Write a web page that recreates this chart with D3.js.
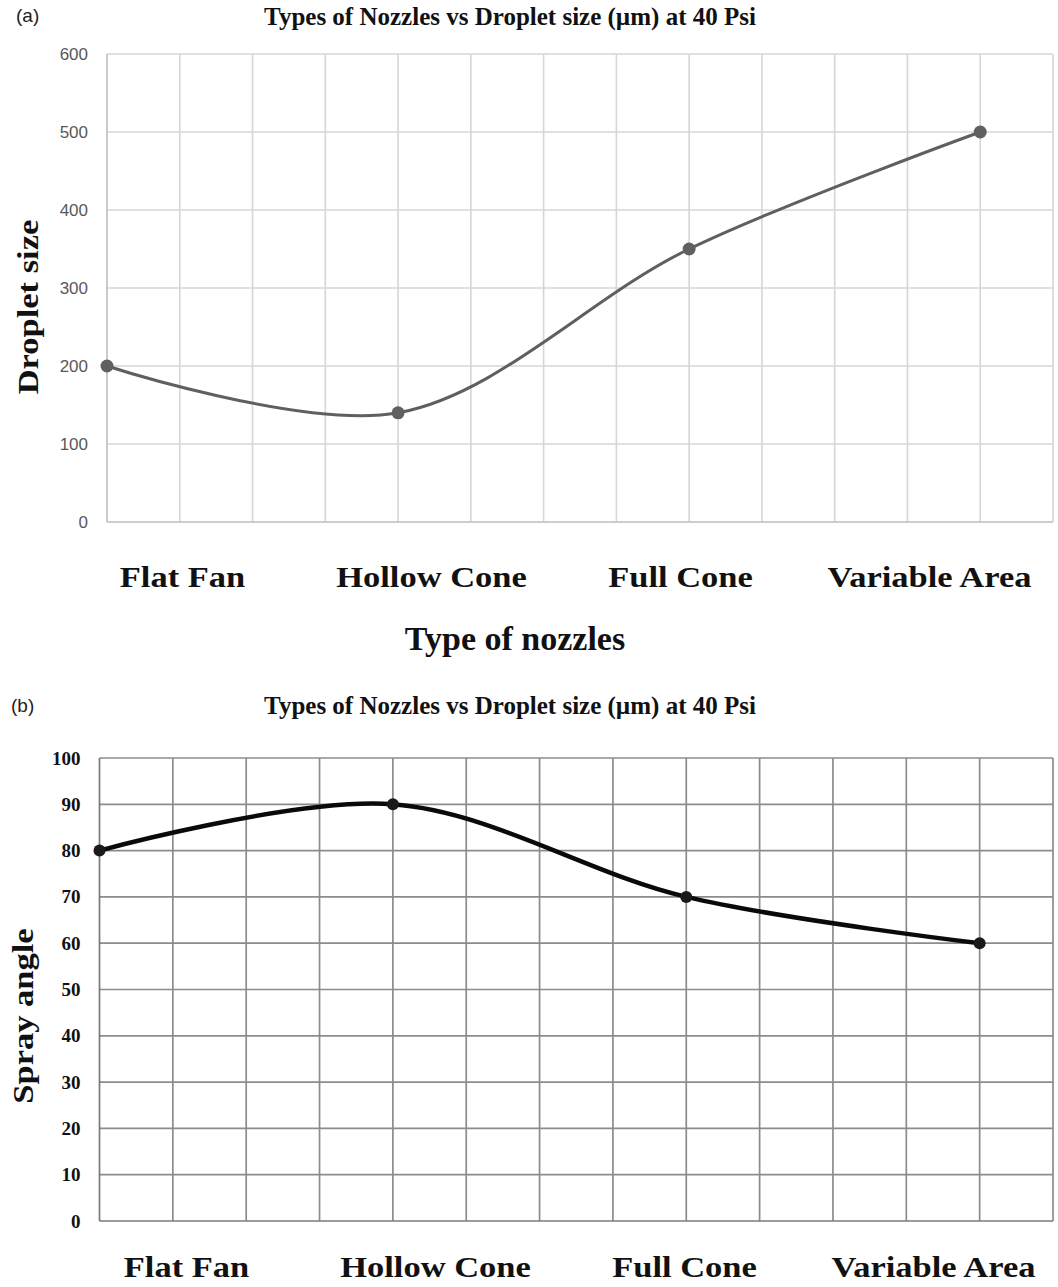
<!DOCTYPE html>
<html>
<head>
<meta charset="utf-8">
<script src="https://cdn.jsdelivr.net/npm/d3@7"></script>
<style>
  html, body { margin: 0; padding: 0; background: #fff; }
  svg { display: block; }
</style>
</head>
<body>
<svg id="fig" width="1058" height="1287"></svg>
<script>
// Nozzle types and their measured values at 40 psi
const nozzles = ["Flat Fan", "Hollow Cone", "Full Cone", "Variable Area"];
const nozzleSlots = [0, 4, 8, 12];          // grid column where each nozzle sits
const dropletSize = [200, 140, 350, 500];   // µm
const sprayAngle = [80, 90, 70, 60];        // degrees
const dropletTicks = [0, 100, 200, 300, 400, 500, 600];
const angleTicks = [0, 10, 20, 30, 40, 50, 60, 70, 80, 90, 100];
const chartTitle = "Types of Nozzles vs Droplet size (µm) at 40 Psi";

const svg = d3.select("#fig");
const serif = "'Liberation Serif', 'Times New Roman', serif";
const sans = "'Liberation Sans', Arial, sans-serif";

function panel(cfg) {
  const g = svg.append("g");
  const x = d3.scaleLinear().domain([0, 13]).range([cfg.left, cfg.right]);
  const y = d3.scaleLinear().domain([cfg.ticks[0], cfg.ticks[cfg.ticks.length - 1]])
    .range([cfg.bottom, cfg.top]);

  // panel letter and title
  g.append("text").attr("x", cfg.letterX).attr("y", cfg.letterY)
    .attr("font-family", sans).attr("font-size", 19).attr("fill", "#222")
    .text(cfg.letter);
  g.append("text").attr("x", cfg.titleX).attr("y", cfg.titleY)
    .attr("text-anchor", "middle").attr("font-family", serif)
    .attr("font-weight", "bold").attr("font-size", 25).attr("fill", "#111")
    .text(chartTitle);

  // horizontal grid
  g.append("g").selectAll("line").data(cfg.ticks.slice(1)).join("line")
    .attr("x1", x(0)).attr("x2", x(13))
    .attr("y1", d => y(d)).attr("y2", d => y(d))
    .attr("stroke", cfg.gridColor).attr("stroke-width", cfg.gridWidth);
  // vertical grid
  g.append("g").selectAll("line").data(d3.range(1, 14)).join("line")
    .attr("x1", d => x(d)).attr("x2", d => x(d))
    .attr("y1", y.range()[1]).attr("y2", y.range()[0])
    .attr("stroke", cfg.gridColor).attr("stroke-width", cfg.gridWidth);
  // axis lines
  g.append("line").attr("x1", x(0)).attr("x2", x(0))
    .attr("y1", y.range()[1]).attr("y2", y.range()[0])
    .attr("stroke", cfg.axisColor).attr("stroke-width", cfg.gridWidth);
  g.append("line").attr("x1", x(0)).attr("x2", x(13))
    .attr("y1", y.range()[0]).attr("y2", y.range()[0])
    .attr("stroke", cfg.axisColor).attr("stroke-width", cfg.gridWidth);

  // y tick labels via d3 axis
  const yAxis = d3.axisLeft(y).tickValues(cfg.ticks).tickSize(0).tickPadding(cfg.tickPad);
  const ya = g.append("g").attr("transform", `translate(${x(0)},0)`).call(yAxis);
  ya.select(".domain").remove();
  ya.selectAll("text").attr("font-family", cfg.tickFont).attr("font-size", cfg.tickSize)
    .attr("font-weight", cfg.tickWeight).attr("fill", cfg.tickColor);

  // y axis title
  g.append("text")
    .attr("transform", `translate(${cfg.yTitleX},${cfg.yTitleY}) rotate(-90) scale(1.15,1)`)
    .attr("text-anchor", "middle").attr("font-family", serif)
    .attr("font-weight", "bold").attr("font-size", 30).attr("fill", "#111")
    .text(cfg.yTitle);

  // category labels
  const cat = d3.scalePoint().domain(nozzles).range(cfg.catRange).padding(0.5);
  g.append("g").selectAll("text").data(nozzles).join("text")
    .attr("transform", d => `translate(${cat(d)},${cfg.catY}) scale(1.15,1)`)
    .attr("text-anchor", "middle").attr("font-family", serif)
    .attr("font-weight", "bold").attr("font-size", 30).attr("fill", "#111")
    .text(d => d);

  // smoothed line and markers
  const pts = cfg.values.map((v, i) => [x(nozzleSlots[i]), y(v)]);
  g.append("path").datum(pts)
    .attr("d", d3.line().curve(d3.curveCatmullRom.alpha(0.5)))
    .attr("fill", "none").attr("stroke", cfg.lineColor)
    .attr("stroke-width", cfg.lineWidth).attr("stroke-linejoin", "round");
  g.append("g").selectAll("circle").data(pts).join("circle")
    .attr("cx", d => d[0]).attr("cy", d => d[1]).attr("r", cfg.markerR)
    .attr("fill", cfg.markerColor);
  return g;
}

const panelA = panel({
  letter: "(a)", letterX: 16, letterY: 22, titleX: 510, titleY: 25,
  left: 107, right: 1053, top: 54, bottom: 522,
  ticks: dropletTicks, values: dropletSize,
  gridColor: "#d6d6d6", axisColor: "#bdbdbd", gridWidth: 1.6,
  tickFont: sans, tickSize: 17, tickWeight: "normal", tickColor: "#595959", tickPad: 19,
  yTitle: "Droplet size", yTitleX: 38, yTitleY: 307,
  catRange: [58, 1054], catY: 587,
  lineColor: "#5f5f5f", lineWidth: 3, markerR: 6.5, markerColor: "#606060"
});
panelA.append("text").attr("x", 515).attr("y", 650).attr("text-anchor", "middle")
  .attr("font-family", serif).attr("font-weight", "bold").attr("font-size", 34)
  .attr("fill", "#111").text("Type of nozzles");

panel({
  letter: "(b)", letterX: 11, letterY: 712, titleX: 510, titleY: 714,
  left: 99.5, right: 1053, top: 758, bottom: 1221,
  ticks: angleTicks, values: sprayAngle,
  gridColor: "#8c8c8c", axisColor: "#7a7a7a", gridWidth: 1.7,
  tickFont: serif, tickSize: 19, tickWeight: "bold", tickColor: "#111", tickPad: 19,
  yTitle: "Spray angle", yTitleX: 33, yTitleY: 1016,
  catRange: [62, 1058], catY: 1277,
  lineColor: "#0a0a0a", lineWidth: 4.5, markerR: 6, markerColor: "#1a1a1a"
});
</script>
</body>
</html>
